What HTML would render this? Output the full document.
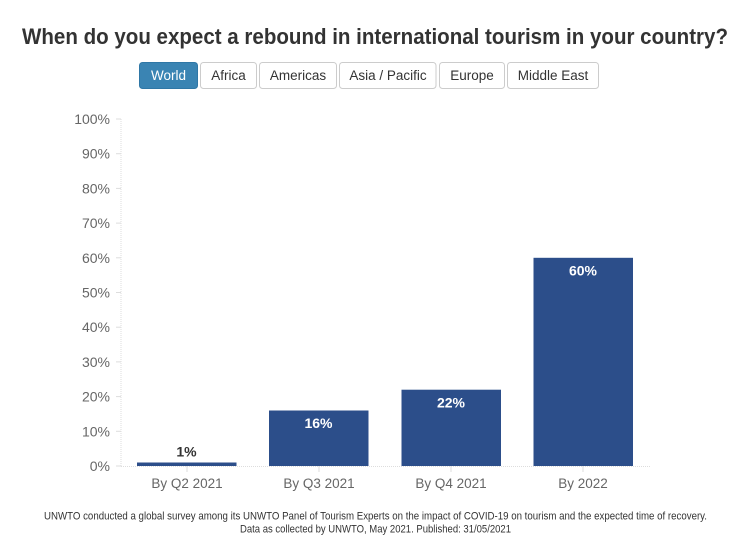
<!DOCTYPE html>
<html><head><meta charset="utf-8"><style>
html,body{margin:0;padding:0;background:#fff;}
svg{display:block;font-family:"Liberation Sans",sans-serif;}
</style></head><body>
<svg width="752" height="552" viewBox="0 0 752 552" xmlns="http://www.w3.org/2000/svg">
<rect width="752" height="552" fill="#fff"/>
<text x="375" y="44" text-anchor="middle" font-size="22" font-weight="bold" fill="#333" textLength="706" lengthAdjust="spacingAndGlyphs">When do you expect a rebound in international tourism in your country?</text>
<!-- buttons -->
<g font-size="13.5" text-anchor="middle">
<rect x="139.5" y="62.5" width="58" height="26" rx="3" fill="#3a84b3" stroke="#2f77a6"/>
<text x="168.5" y="80" fill="#fff">World</text>
<rect x="200.5" y="62.5" width="56" height="26" rx="3" fill="#fff" stroke="#ccc"/>
<text x="228.5" y="80" fill="#333">Africa</text>
<rect x="259.5" y="62.5" width="77" height="26" rx="3" fill="#fff" stroke="#ccc"/>
<text x="298" y="80" fill="#333">Americas</text>
<rect x="339.5" y="62.5" width="96.5" height="26" rx="3" fill="#fff" stroke="#ccc"/>
<text x="388" y="80" fill="#333">Asia / Pacific</text>
<rect x="439.5" y="62.5" width="65" height="26" rx="3" fill="#fff" stroke="#ccc"/>
<text x="472" y="80" fill="#333">Europe</text>
<rect x="507.5" y="62.5" width="91" height="26" rx="3" fill="#fff" stroke="#ccc"/>
<text x="553" y="80" fill="#333">Middle East</text>
</g>
<!-- axes -->
<line x1="121" y1="119" x2="121" y2="466" stroke="#ddd" stroke-dasharray="1,1"/>
<line x1="121" y1="466.5" x2="650" y2="466.5" stroke="#ddd" stroke-dasharray="1,1"/>
<g stroke="#ddd">
<line x1="116" y1="119" x2="121" y2="119"/>
<line x1="116" y1="153.7" x2="121" y2="153.7"/>
<line x1="116" y1="188.4" x2="121" y2="188.4"/>
<line x1="116" y1="223.1" x2="121" y2="223.1"/>
<line x1="116" y1="257.8" x2="121" y2="257.8"/>
<line x1="116" y1="292.5" x2="121" y2="292.5"/>
<line x1="116" y1="327.2" x2="121" y2="327.2"/>
<line x1="116" y1="361.9" x2="121" y2="361.9"/>
<line x1="116" y1="396.6" x2="121" y2="396.6"/>
<line x1="116" y1="431.3" x2="121" y2="431.3"/>
<line x1="116" y1="466" x2="121" y2="466"/>
<line x1="187" y1="466" x2="187" y2="472"/>
<line x1="319" y1="466" x2="319" y2="472"/>
<line x1="451" y1="466" x2="451" y2="472"/>
<line x1="583" y1="466" x2="583" y2="472"/>
</g>
<g font-size="14" fill="#666" text-anchor="end">
<text x="110" y="124">100%</text>
<text x="110" y="158.7">90%</text>
<text x="110" y="193.4">80%</text>
<text x="110" y="228.1">70%</text>
<text x="110" y="262.8">60%</text>
<text x="110" y="297.5">50%</text>
<text x="110" y="332.2">40%</text>
<text x="110" y="366.9">30%</text>
<text x="110" y="401.6">20%</text>
<text x="110" y="436.3">10%</text>
<text x="110" y="471">0%</text>
</g>
<!-- bars -->
<g fill="#2c4e8a">
<rect x="137" y="462.5" width="99.5" height="3.5"/>
<rect x="269" y="410.5" width="99.5" height="55.5"/>
<rect x="401.5" y="389.7" width="99.5" height="76.3"/>
<rect x="533.5" y="257.8" width="99.5" height="208.2"/>
</g>
<g font-size="14" font-weight="bold" text-anchor="middle">
<text x="186.5" y="456.5" fill="#333">1%</text>
<text x="318.5" y="428" fill="#fff">16%</text>
<text x="451" y="407.5" fill="#fff">22%</text>
<text x="583" y="275.5" fill="#fff">60%</text>
</g>
<g font-size="13.5" fill="#666" text-anchor="middle">
<text x="187" y="488">By Q2 2021</text>
<text x="319" y="488">By Q3 2021</text>
<text x="451" y="488">By Q4 2021</text>
<text x="583" y="488">By 2022</text>
</g>
<g font-size="11" fill="#333" text-anchor="middle">
<text x="375.5" y="519.5" textLength="663" lengthAdjust="spacingAndGlyphs">UNWTO conducted a global survey among its UNWTO Panel of Tourism Experts on the impact of COVID-19 on tourism and the expected time of recovery.</text>
<text x="375.5" y="532.5" textLength="271" lengthAdjust="spacingAndGlyphs">Data as collected by UNWTO, May 2021. Published: 31/05/2021</text>
</g>
</svg>
</body></html>
